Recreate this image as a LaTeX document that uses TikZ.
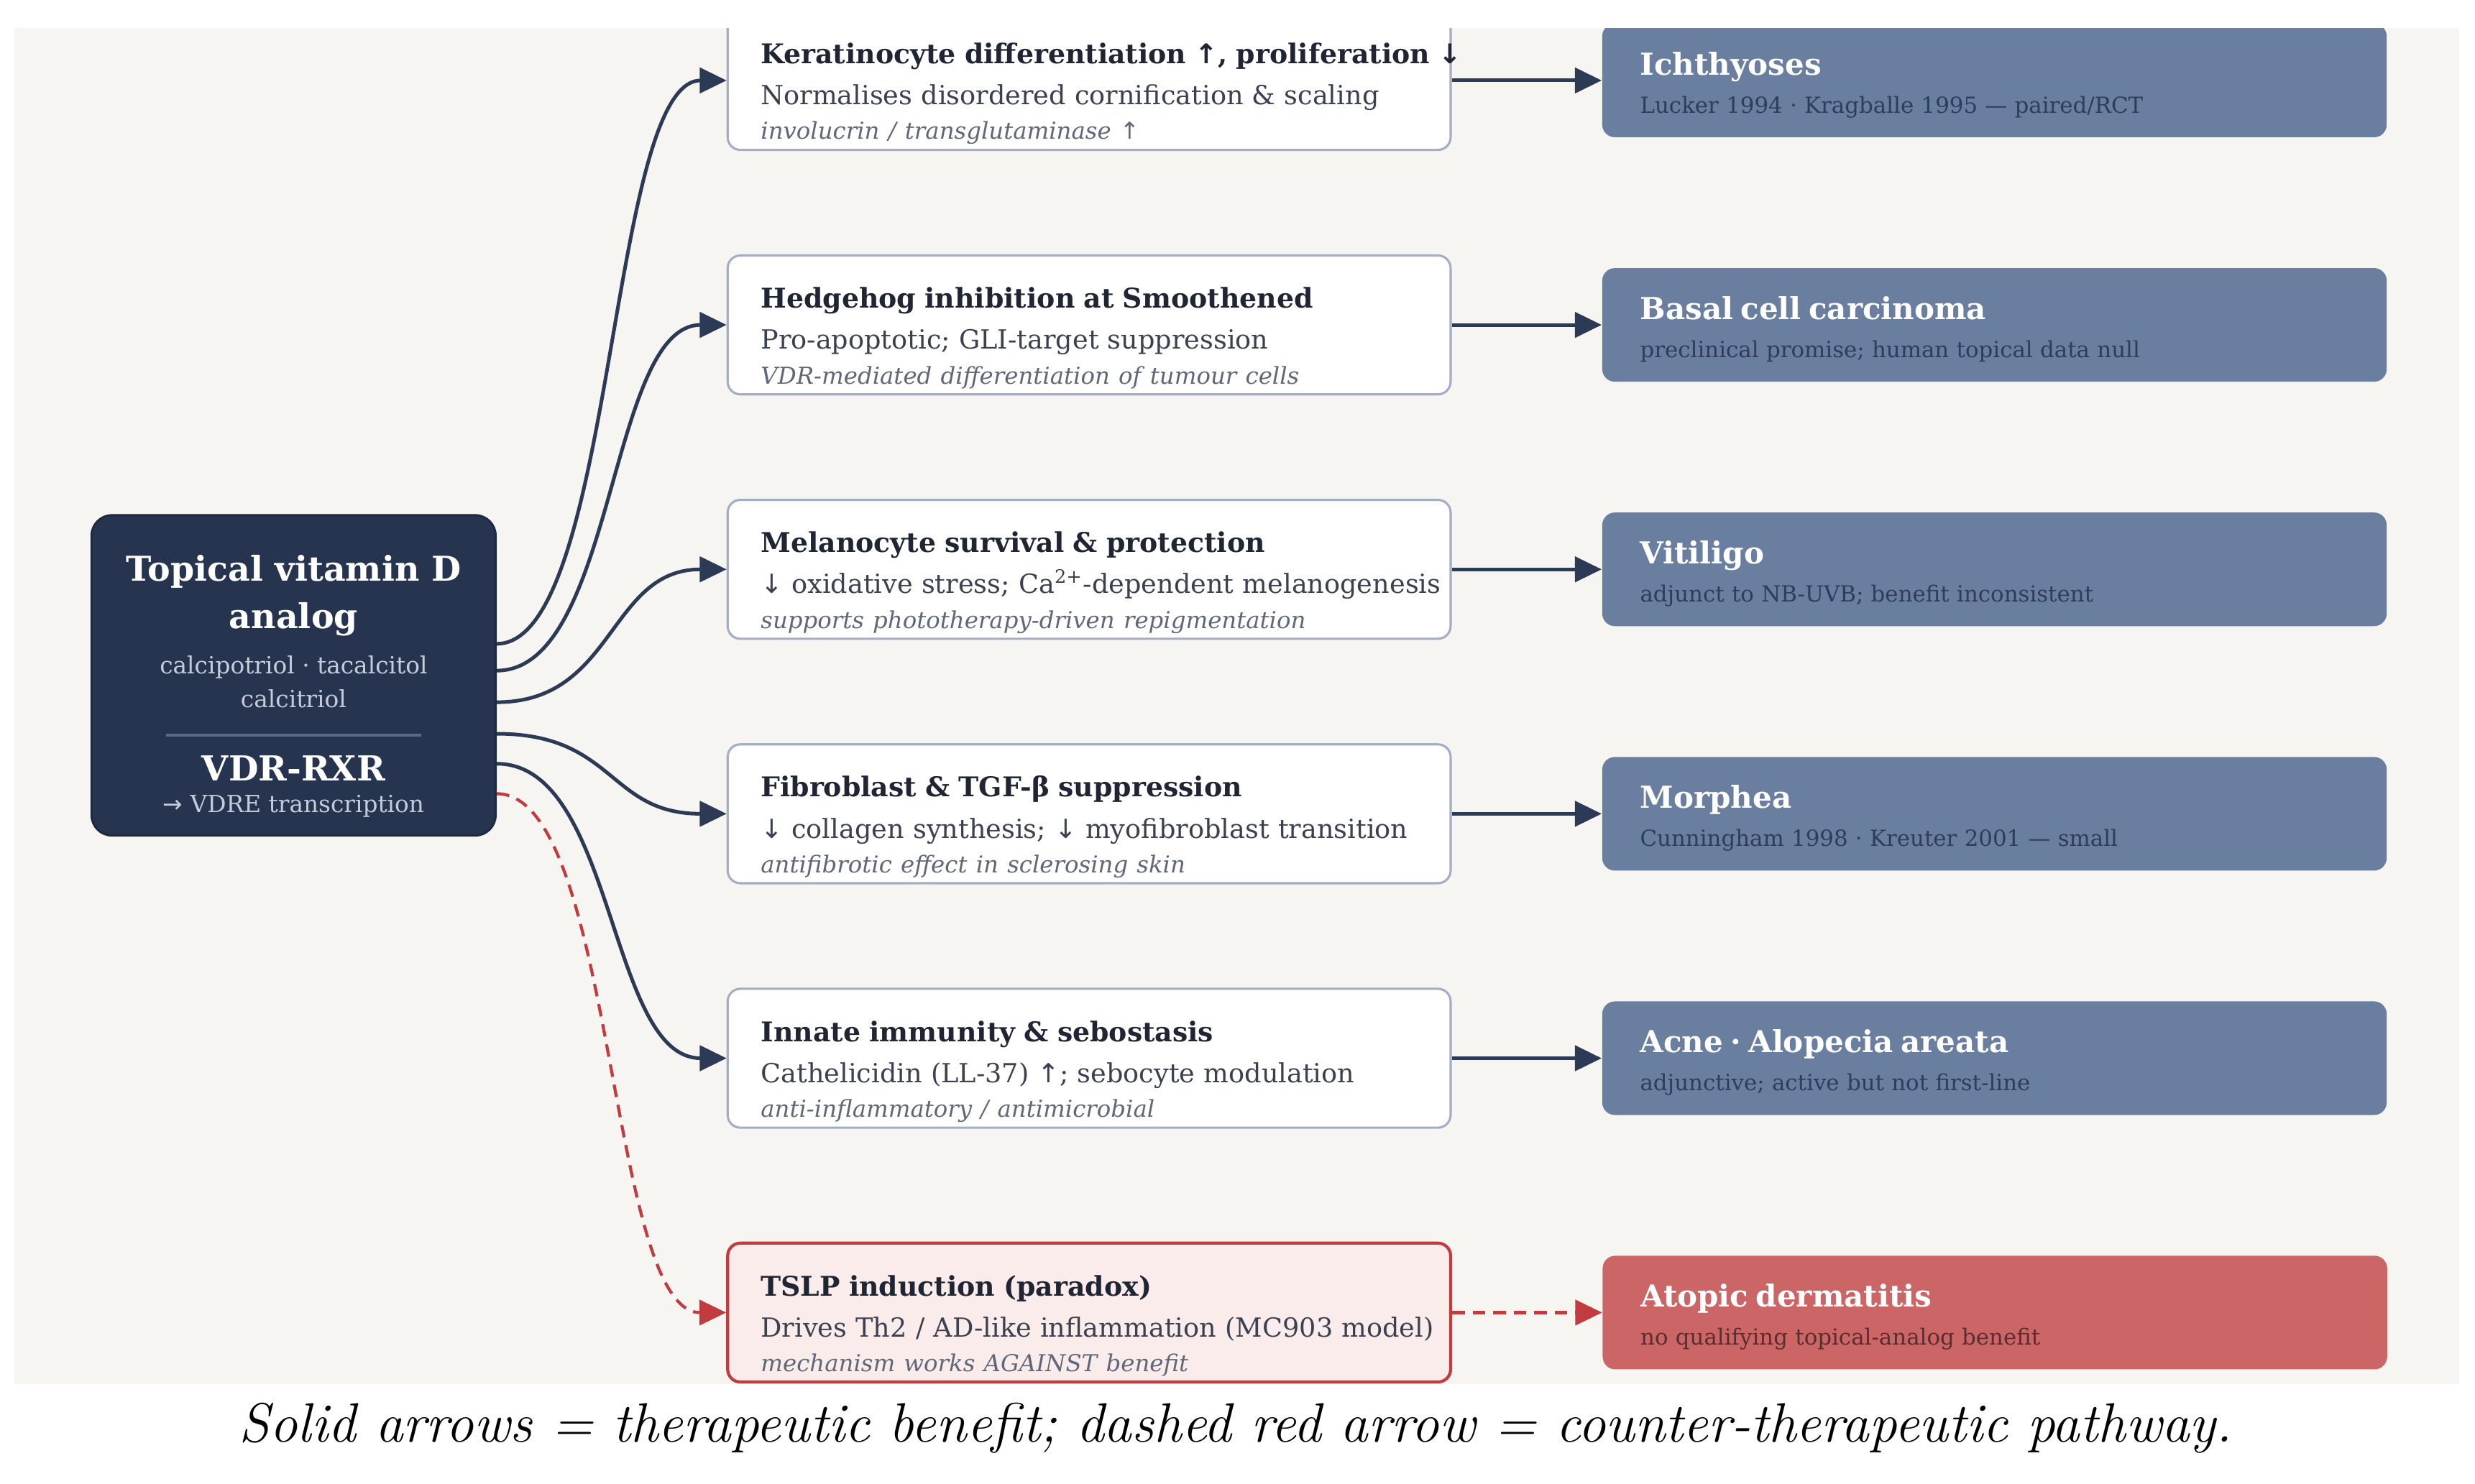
\documentclass[tikz,border=0pt]{standalone}
\usepackage{fontspec}
\usepackage{xcolor}
\usepackage{tikz}
\usetikzlibrary{positioning, arrows.meta}

\newfontfamily\diagfont{DejaVu Serif}
\newfontfamily\symfont{DejaVu Sans}

\definecolor{panelbg}{HTML}{F6F5F1}
\definecolor{navy}{HTML}{26344F}
\definecolor{navyedge}{HTML}{1E2A40}
\definecolor{navyline}{HTML}{2C3A55}
\definecolor{midborder}{HTML}{A3AEC4}
\definecolor{titletxt}{HTML}{1F2533}
\definecolor{bodytxt}{HTML}{3B4150}
\definecolor{notetxt}{HTML}{5F6778}
\definecolor{slate}{HTML}{6A7E9F}
\definecolor{slatetxt}{HTML}{2E3D5A}
\definecolor{redline}{HTML}{C23B3E}
\definecolor{redfill}{HTML}{FBECEC}
\definecolor{redbox}{HTML}{CC6565}
\definecolor{redtxt}{HTML}{5A2E30}
\definecolor{srcsub}{HTML}{C5CCD9}
\definecolor{srcrule}{HTML}{5B6A88}

\newcommand{\arrup}{{\symfont ↑}}
\newcommand{\arrdn}{{\symfont ↓}}
\newcommand{\arrrt}{{\symfont →}}

% source box lines
\newcommand{\srctitle}[1]{\fontsize{12.3}{12}\selectfont\bfseries\color{white}#1}
\newcommand{\srcsub}[1]{\fontsize{8.5}{12}\selectfont\color{srcsub}#1}
% mechanism box: title / effect / note
\newcommand{\mechtext}[3]{%
  \mbox{\rule{0pt}{17pt}\fontsize{9.8}{12}\selectfont\bfseries\color{titletxt}#1}\\[2.3pt]
  \mbox{\color{bodytxt}#2}\\
  \mbox{\fontsize{8.4}{10}\selectfont\itshape\color{notetxt}#3}}
% disease box: name / evidence
\newcommand{\diseasetext}[2]{%
  \mbox{\rule{0pt}{11.5pt}\fontsize{10.9}{12}\selectfont\bfseries\color{white}#1}\\[3.7pt]
  \mbox{\fontsize{8}{10}\selectfont #2}}

\begin{document}
\begin{tikzpicture}[node distance=1.31cm, >={Triangle[length=0.34cm,width=0.32cm]},
    srcbox/.style={draw=navyedge, fill=navy, line width=0.8pt, rounded corners=0.26cm,
      minimum width=5.12cm, minimum height=4.06cm, align=center, text=white,
      font=\diagfont\fontsize{8}{12}\selectfont},
    mech/.style={draw=midborder, fill=white, line width=0.8pt, rounded corners=0.16cm,
      minimum width=9.16cm, minimum height=1.76cm, text width=8.32cm, inner xsep=0.42cm,
      inner ysep=0pt, align=left, font=\diagfont\fontsize{9.5}{12.5}\selectfont},
    paradox/.style={mech, draw=redline, fill=redfill, line width=1.1pt},
    disease/.style={fill=slate, rounded corners=0.16cm, minimum width=9.94cm,
      minimum height=1.44cm, text width=8.98cm, inner xsep=0.48cm, inner ysep=0pt,
      align=left, text=slatetxt, font=\diagfont\fontsize{8}{10}\selectfont},
    adbox/.style={disease, fill=redbox, text=redtxt},
    benefit/.style={->, navyline, line width=1.3pt},
    counter/.style={->, redline, line width=1.1pt, dash pattern=on 0.16cm off 0.1cm},
    fan/.style={out=0, in=180, distance=1.5cm}]

  % Canvas
  \fill[white] (0,0) rectangle (31.36,18.8);
  \fill[panelbg] (0.18,1.26) rectangle (31.16,18.44);

  \begin{scope}
    \clip (0.18,1.26) rectangle (31.16,18.44);

    % Source
    \node[srcbox] (src) at (3.72,10.24) {%
      \rule{0pt}{17pt}\srctitle{Topical vitamin D}\\[5.1pt]
      \srctitle{analog}\\[4.5pt]
      \srcsub{calcipotriol · tacalcitol}\\
      \srcsub{calcitriol}\\[-1.5pt]
      {\color{srcrule}\rule{3.24cm}{0.9pt}}\\[4pt]
      \fontsize{12.4}{12}\selectfont\bfseries VDR-RXR\\[-0.6pt]
      \srcsub{\arrrt{} VDRE transcription}};

    % Mechanisms
    \node[mech] (kera) at (13.8,17.78) {\mechtext{Keratinocyte differentiation \arrup, proliferation \arrdn}
      {Normalises disordered cornification \& scaling}{involucrin / transglutaminase \arrup}};
    \node[mech, below=of kera] (hedge) {\mechtext{Hedgehog inhibition at Smoothened}
      {Pro-apoptotic; GLI-target suppression}{VDR-mediated differentiation of tumour cells}};
    \node[mech, below=of hedge] (melano) {\mechtext{Melanocyte survival \& protection}
      {\arrdn{} oxidative stress; Ca\textsuperscript{2+}-dependent melanogenesis}{supports phototherapy-driven repigmentation}};
    \node[mech, below=of melano] (fibro) {\mechtext{Fibroblast \& TGF-β suppression}
      {\arrdn{} collagen synthesis; \arrdn{} myofibroblast transition}{antifibrotic effect in sclerosing skin}};
    \node[mech, below=of fibro] (innate) {\mechtext{Innate immunity \& sebostasis}
      {Cathelicidin (LL-37) \arrup; sebocyte modulation}{anti-inflammatory / antimicrobial}};
    \node[paradox, below=1.43cm of innate] (tslp) {\mechtext{TSLP induction (paradox)}
      {Drives Th2 / AD-like inflammation (MC903 model)}{mechanism works AGAINST benefit}};

    % Diseases
    \node[disease, right=1.9cm of kera] (ichthy) {\diseasetext{Ichthyoses}
      {Lucker 1994 · Kragballe 1995 — paired/RCT}};
    \node[disease, right=1.9cm of hedge] (bcc) {\diseasetext{Basal cell carcinoma}
      {preclinical promise; human topical data null}};
    \node[disease, right=1.9cm of melano] (vitiligo) {\diseasetext{Vitiligo}
      {adjunct to NB-UVB; benefit inconsistent}};
    \node[disease, right=1.9cm of fibro] (morphea) {\diseasetext{Morphea}
      {Cunningham 1998 · Kreuter 2001 — small}};
    \node[disease, right=1.9cm of innate] (acne) {\diseasetext{Acne · Alopecia areata}
      {adjunctive; active but not first-line}};
    \node[adbox, right=1.9cm of tslp] (atopic) {\diseasetext{Atopic dermatitis}
      {no qualifying topical-analog benefit}};

    % Fan-out from the source
    \draw[benefit] ([yshift=0.4cm]src.east) to[fan] (kera.west);
    \draw[benefit] ([yshift=0.06cm]src.east) to[fan] (hedge.west);
    \draw[benefit] ([yshift=-0.34cm]src.east) to[fan] (melano.west);
    \draw[benefit] ([yshift=-0.74cm]src.east) to[fan] (fibro.west);
    \draw[benefit] ([yshift=-1.12cm]src.east) to[fan] (innate.west);
    \draw[counter] ([yshift=-1.5cm]src.east) to[fan] (tslp.west);

    % Mechanism -> disease
    \draw[benefit] (kera) -- (ichthy);
    \draw[benefit] (hedge) -- (bcc);
    \draw[benefit] (melano) -- (vitiligo);
    \draw[benefit] (fibro) -- (morphea);
    \draw[benefit] (innate) -- (acne);
    \draw[counter] (tslp) -- (atopic);
  \end{scope}

  % Caption
  \node[font=\fontsize{20}{24}\selectfont\itshape] (caption) at (15.66,0.7)
    {Solid arrows = therapeutic benefit; dashed red arrow = counter-therapeutic pathway.};
\end{tikzpicture}
\end{document}
